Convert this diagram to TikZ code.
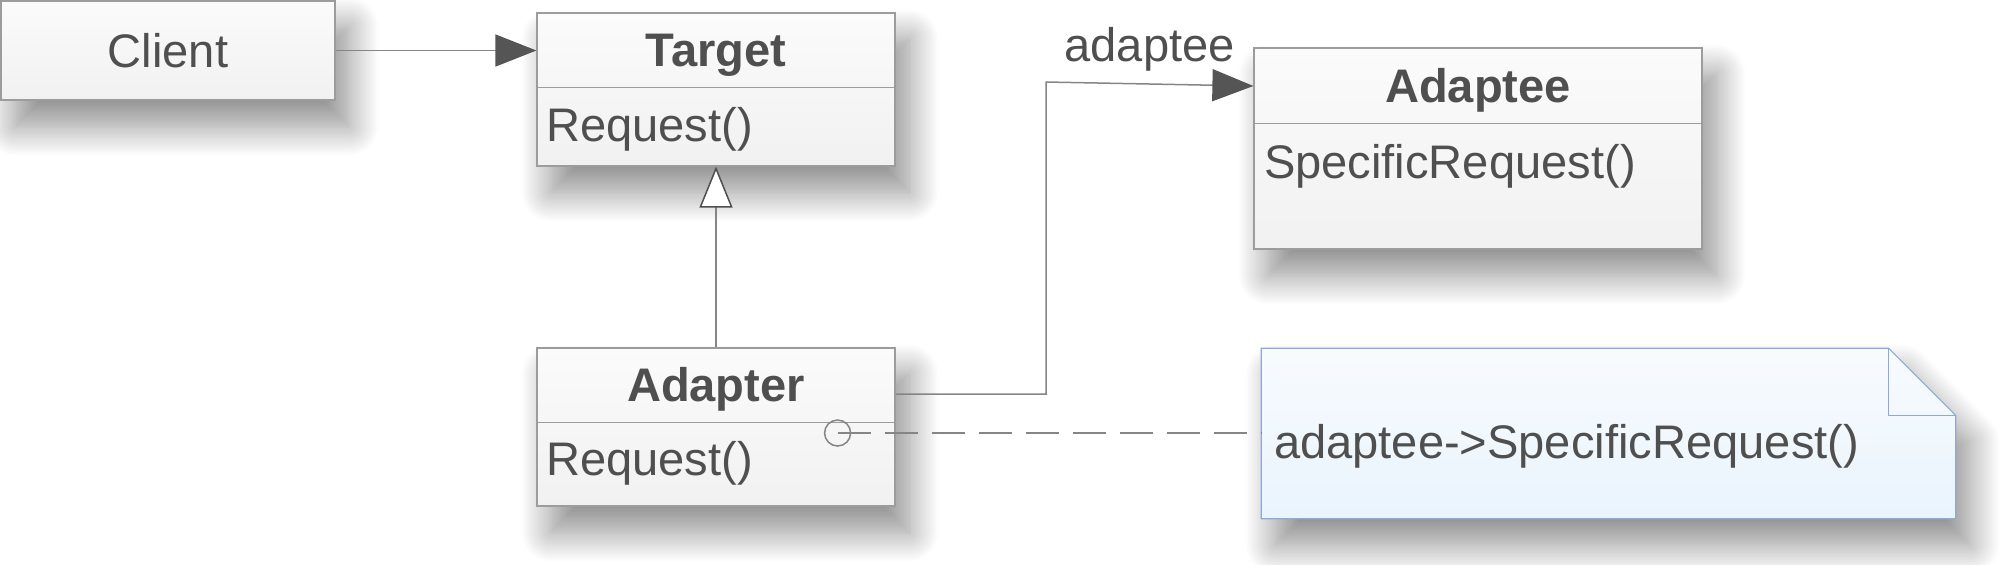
\documentclass[tikz,border=0pt]{standalone}
\usepackage{fontspec}
\setmainfont{Liberation Sans}
\usetikzlibrary{arrows.meta,shadows.blur}

\definecolor{inkgray}{HTML}{4F4F4F}
\definecolor{boxline}{HTML}{9C9C9C}
\definecolor{boxtop}{HTML}{FBFBFB}
\definecolor{boxbottom}{HTML}{F1F1F1}
\definecolor{wiregray}{HTML}{858585}
\definecolor{tipgray}{HTML}{555555}
\definecolor{notetop}{HTML}{F8FBFE}
\definecolor{notebottom}{HTML}{E9F4FD}
\definecolor{noteline}{HTML}{8EA8DA}

\tikzset{
  softshadow/.style={blur shadow={shadow xshift=1.4mm,shadow yshift=-2.6mm,shadow blur radius=3mm,
    shadow blur steps=24,shadow opacity=45}},
  classbox/.style={draw=boxline,line width=0.12mm,top color=boxtop,bottom color=boxbottom,
    inner sep=0pt,minimum width=35.8mm,softshadow},
  divider/.style={draw=boxline,line width=0.12mm},
  classname/.style={anchor=base,inner sep=0pt,font=\fontsize{13.4pt}{16pt}\selectfont\bfseries},
  classops/.style={anchor=base west,inner sep=0pt},
  wire/.style={draw=wiregray,line width=0.15mm},
  assoc/.style={wire,-{Triangle[length=4.1mm,width=3.2mm,fill=tipgray,color=tipgray]}},
  inherit/.style={wire,-{Triangle[open,length=4.1mm,width=3.3mm,fill=white,color=inkgray]}},
  notelink/.style={wire,dash pattern=on 3.3mm off 1.4mm},
  notebox/.style={draw=noteline,line width=0.12mm,top color=notetop,bottom color=notebottom,softshadow},
  notefold/.style={draw=noteline,line width=0.12mm},
}

\begin{document}
\begin{tikzpicture}[x=0.1mm,y=-0.1mm,font=\fontsize{13.4pt}{16pt}\selectfont,text=inkgray]
\useasboundingbox (0,0) rectangle (2000,564);

% classes
\node[classbox,minimum width=33.4mm,minimum height=9.9mm] (client) at (168,50.5) {Client};

\node[classbox,minimum height=15.3mm] (target) at (716,89.5) {};
\draw[divider] ([yshift=-7.5mm]target.north west) -- ([yshift=-7.5mm]target.north east);
\node[classname] (target name) at ([yshift=-5.4mm]target.north) {Target};
\node[classops] (target ops) at ([xshift=0.9mm,yshift=-12.9mm]target.north west) {Request()};

\node[classbox,minimum height=15.8mm] (adapter) at (716,427) {};
\draw[divider] ([yshift=-7.5mm]adapter.north west) -- ([yshift=-7.5mm]adapter.north east);
\node[classname] (adapter name) at ([yshift=-5.4mm]adapter.north) {Adapter};
\node[classops] (adapter ops) at ([xshift=0.9mm,yshift=-12.8mm]adapter.north west) {Request()};

\node[classbox,minimum width=44.8mm,minimum height=20.1mm] (adaptee) at (1478,148.5) {};
\draw[divider] ([yshift=-7.6mm]adaptee.north west) -- ([yshift=-7.6mm]adaptee.north east);
\node[classname] (adaptee name) at ([yshift=-5.5mm]adaptee.north) {Adaptee};
\node[classops] (adaptee ops) at ([xshift=1mm,yshift=-13.1mm]adaptee.north west) {SpecificRequest()};

% note
\node[minimum width=69.3mm,minimum height=16.9mm,inner sep=0pt] (note) at (1608.5,433.5) {};
\path[notebox] (note.north west) -- ([xshift=-6.7mm]note.north east) -- ([yshift=-6.7mm]note.north east)
  -- (note.south east) -- (note.south west) -- cycle;
\draw[notefold] ([xshift=-6.7mm]note.north east) |- ([yshift=-6.7mm]note.north east);
\node[classops] (note text) at ([xshift=1.2mm,yshift=-11mm]note.north west) {adaptee->SpecificRequest()};

% connectors
\draw[assoc] (client.east) -- (client.east -| target.west);
\draw[inherit] (adapter.north) -- (target.south);
\coordinate (bend) at (1046,82);
\draw[assoc] ([yshift=3.3mm]adapter.east) -| (bend)
  -- node[above] (role) {adaptee} ([yshift=6.25mm]adaptee.west);
\coordinate (pin) at ([xshift=-5.8mm,yshift=-0.6mm]adapter.east);
\draw[wire] (pin) circle[radius=1.3mm];
\draw[notelink] (pin) -- (pin -| note.west);
\end{tikzpicture}
\end{document}
